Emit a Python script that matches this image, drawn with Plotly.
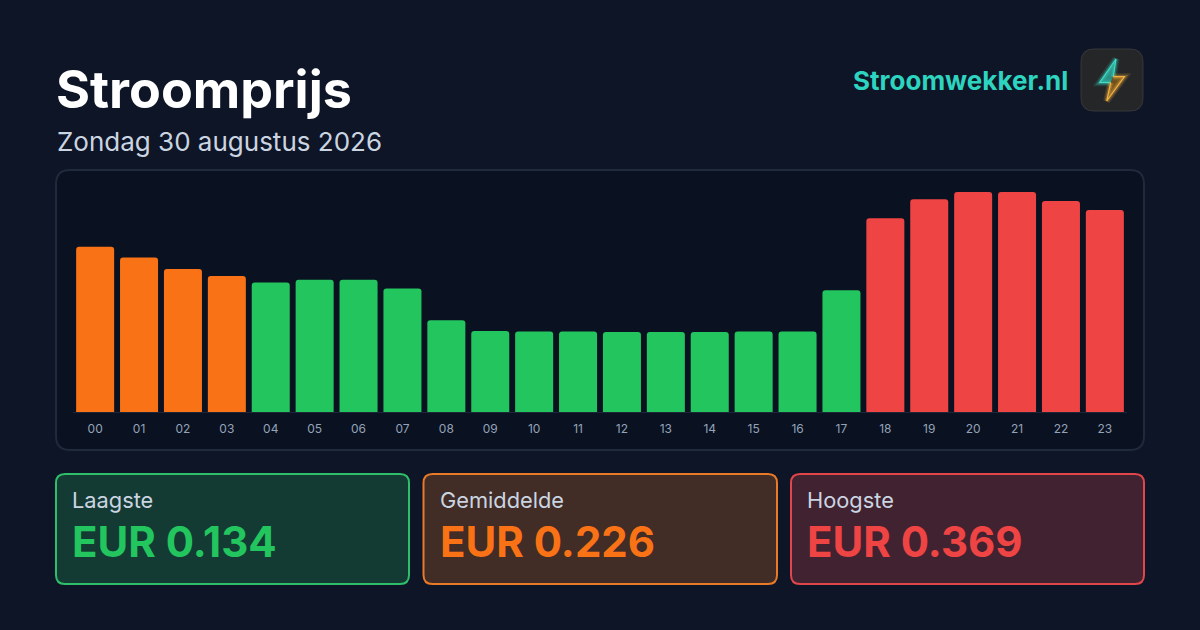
## import packages
import plotly.graph_objects as go

### chart data ----
hours = ['00', '01', '02', '03', '04', '05', '06', '07', '08', '09', '10', '11',
         '12', '13', '14', '15', '16', '17', '18', '19', '20', '21', '22', '23']
prices = [0.277, 0.259, 0.240, 0.228, 0.217, 0.222, 0.222, 0.207, 0.154, 0.136, 0.135, 0.135,
          0.134, 0.134, 0.134, 0.135, 0.135, 0.204, 0.325, 0.357, 0.369, 0.369, 0.354, 0.339]
levels = ['mid', 'mid', 'mid', 'mid', 'low', 'low', 'low', 'low', 'low', 'low', 'low', 'low',
          'low', 'low', 'low', 'low', 'low', 'low', 'high', 'high', 'high', 'high', 'high', 'high']
card_labels = ['Laagste', 'Gemiddelde', 'Hoogste']
card_values = ['EUR 0.134', 'EUR 0.226', 'EUR 0.369']

level_colors = {'low': '#22c55e', 'mid': '#f97316', 'high': '#ef4444'}
W, H = 1200, 630


# pixel position to paper coordinates
def fx(x):
    return x / W


def fy(y):
    return 1 - y / H


def round_rect(x0, y0, x1, y1, r):
    p = [
        f"M{fx(x0 + r)},{fy(y0)}", f"L{fx(x1 - r)},{fy(y0)}", f"Q{fx(x1)},{fy(y0)} {fx(x1)},{fy(y0 + r)}",
        f"L{fx(x1)},{fy(y1 - r)}", f"Q{fx(x1)},{fy(y1)} {fx(x1 - r)},{fy(y1)}",
        f"L{fx(x0 + r)},{fy(y1)}", f"Q{fx(x0)},{fy(y1)} {fx(x0)},{fy(y1 - r)}",
        f"L{fx(x0)},{fy(y0 + r)}", f"Q{fx(x0)},{fy(y0)} {fx(x0 + r)},{fy(y0)}", "Z",
    ]
    return " ".join(p)


def polyline(points, close=False):
    return "M" + " L".join(f"{fx(x)},{fy(y)}" for x, y in points) + (" Z" if close else "")


def box(x0, y0, x1, y1, r, fill, line, width, layer='below'):
    return dict(type='path', path=round_rect(x0, y0, x1, y1, r), xref='paper', yref='paper',
                fillcolor=fill, line=dict(color=line, width=width), layer=layer)


def text(x, y, s, size, color, bold=False, anchor='left'):
    return dict(x=fx(x), y=fy(y), xref='paper', yref='paper', text=f"<b>{s}</b>" if bold else s,
                showarrow=False, xanchor=anchor, yanchor='middle', borderpad=0,
                font=dict(family='Inter', size=size, color=color))


fig = go.Figure()

fig.add_trace(
    go.Bar(
        x=hours,
        y=prices,
        marker=dict(color=[level_colors[l] for l in levels], cornerradius=3, line=dict(width=0)),
        name='',
        hovertemplate="%{x}: EUR %{y}",
    )
)

# Panel, cards and logo
shapes = [box(56, 170, 1144, 450, 14, '#0a1120', '#202a3c', 2)]
card_x = [(56, 409), (423.5, 777), (791, 1144)]
card_fill = ['#143a34', '#412c26', '#412230']
card_line = ['#2fbf6a', '#e87a28', '#e0464a']
for (x0, x1), f, c in zip(card_x, card_fill, card_line):
    shapes.append(box(x0, 474, x1, 584, 9, f, c, 2))

shapes.append(box(1081, 49, 1143, 111, 13, '#252627', '#35373a', 1, 'above'))

# Bolt in two halves, teal on top and amber below, with a soft glow round the outline
bolt_top = [(1113.3, 76.7), (1116, 59), (1099.5, 82.7), (1110.7, 82.7)]
bolt_bottom = [(1110.7, 82.7), (1106.7, 101), (1124.5, 76.7), (1113.3, 76.7)]
for pts, col, fill in [(bolt_top, '#3ddbc8', 'rgba(45,212,191,0.6)'), (bolt_bottom, '#f5b342', 'rgba(245,158,11,0.35)')]:
    shapes.append(dict(type='path', path=polyline(pts, close=True), xref='paper', yref='paper',
                       fillcolor=fill, line=dict(width=0), layer='above'))
    for width, alpha in [(7, 0.14), (4, 0.28), (1.2, 1)]:
        shapes.append(dict(type='path', path=polyline(pts), xref='paper', yref='paper', opacity=alpha,
                           fillcolor='rgba(0,0,0,0)', line=dict(color=col, width=width), layer='above'))

annotations = [
    text(55, 90, 'Stroomprijs', 52, '#ffffff', bold=True),
    text(55.5, 142, 'Zondag 30 augustus 2026', 26, '#cbd5e1'),
    text(1069, 81, 'Stroomwekker.nl', 26, '#2dd4bf', bold=True, anchor='right'),
]
for (x0, x1), lab, val, lev in zip(card_x, card_labels, card_values, ['low', 'mid', 'high']):
    annotations.append(text(x0 + 15, 500, lab, 20 * 1.09, '#cbd5e1'))
    annotations.append(text(x0 + 15, 541, val, 42, level_colors[lev], bold=True))

# Format the layout
fig.update_layout(
    width=W,
    height=H,
    margin=dict(l=0, r=0, t=0, b=0),
    paper_bgcolor='#0e1526',
    plot_bgcolor='rgba(0,0,0,0)',
    showlegend=False,
    bargap=0.134,
    shapes=shapes,
    annotations=annotations,
    xaxis=dict(
        domain=[73.2 / W, 1126.8 / W],
        type='category',
        showgrid=False,
        zeroline=False,
        showline=True,
        linecolor='#1c2638',
        linewidth=1,
        ticks='outside',
        ticklen=6,
        tickcolor='rgba(0,0,0,0)',
        tickfont=dict(family='Inter', size=12, color='#94a3b8'),
    ),
    yaxis=dict(
        domain=[fy(412), fy(192)],
        range=[0, 0.369],
        visible=False,
    ),
)

fig.write_html("out.html", config={'displayModeBar': False}, post_script="document.body.style.margin='0';")
